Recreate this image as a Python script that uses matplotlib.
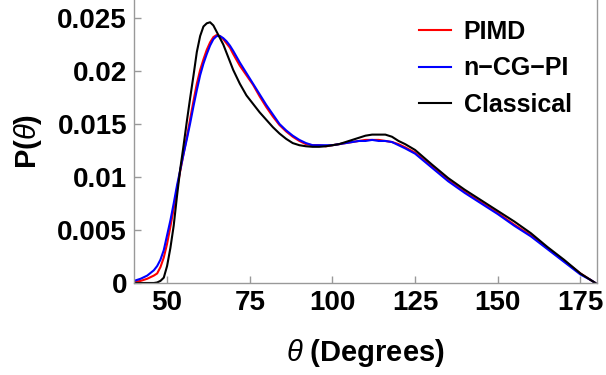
import numpy as np
import matplotlib
matplotlib.use("Agg")
import matplotlib.pyplot as plt

plt.rcParams['font.family'] = ['Liberation Sans', 'DejaVu Sans']
plt.rcParams['mathtext.fontset'] = 'custom'
plt.rcParams['mathtext.it'] = 'Liberation Sans:italic'
plt.rcParams['mathtext.rm'] = 'Liberation Sans:bold'

# angle grid (degrees)
theta = [40, 42, 44, 46, 47, 48, 49, 50, 51, 52, 53, 54, 55, 56, 57, 58, 59, 60,
         61, 62, 63, 64, 65, 66, 67, 68, 69, 70, 72, 74, 76, 78, 80, 82, 84, 86,
         88, 90, 92, 94, 96, 98, 100, 102, 104, 106, 108, 110, 112, 114, 116,
         118, 120, 122, 125, 130, 135, 140, 145, 150, 155, 160, 165, 170, 175,
         178, 179.5]

pimd = [0.0001, 0.0002, 0.0004, 0.0007, 0.0009, 0.0015, 0.0024, 0.0037, 0.0053,
        0.0070, 0.0089, 0.0106, 0.0122, 0.0138, 0.0155, 0.0172, 0.0188, 0.0201,
        0.0211, 0.0220, 0.0227, 0.0232, 0.0234, 0.0233, 0.0230, 0.0226, 0.0222,
        0.0216, 0.0205, 0.0196, 0.0187, 0.0176, 0.0166, 0.0157, 0.0149, 0.0143,
        0.0138, 0.0134, 0.0131, 0.0130, 0.0130, 0.0129, 0.0130, 0.0131, 0.0132,
        0.0133, 0.0134, 0.0135, 0.0135, 0.0135, 0.0134, 0.0133, 0.0131, 0.0128,
        0.0123, 0.0110, 0.0097, 0.0086, 0.0076, 0.0066, 0.0055, 0.0045, 0.0033,
        0.0021, 0.0009, 0.0003, 0.0]

ncgpi = [0.0002, 0.0004, 0.0007, 0.0012, 0.0016, 0.0022, 0.0031, 0.0045, 0.0059,
         0.0075, 0.0092, 0.0107, 0.0122, 0.0136, 0.0151, 0.0167, 0.0182, 0.0196,
         0.0207, 0.0216, 0.0224, 0.0230, 0.0233, 0.0233, 0.0231, 0.0228, 0.0224,
         0.0219, 0.0208, 0.0198, 0.0188, 0.0178, 0.0168, 0.0159, 0.0150, 0.0144,
         0.0139, 0.0135, 0.0132, 0.0130, 0.0130, 0.0130, 0.0130, 0.0131, 0.0132,
         0.0133, 0.0134, 0.0134, 0.0135, 0.0134, 0.0134, 0.0133, 0.0130, 0.0127,
         0.0122, 0.0109, 0.0096, 0.0085, 0.0075, 0.0065, 0.0054, 0.0044, 0.0032,
         0.0020, 0.0008, 0.0003, 0.0]

classical = [0.0, 0.0, 0.0, 0.0, 0.00005, 0.0002, 0.0005, 0.0016, 0.0033, 0.0054,
             0.0082, 0.0108, 0.0130, 0.0153, 0.0175, 0.0196, 0.0218, 0.0233,
             0.0242, 0.0245, 0.0246, 0.0243, 0.0237, 0.0231, 0.0225, 0.0217,
             0.0209, 0.0201, 0.0188, 0.0177, 0.0169, 0.0161, 0.0154, 0.0147,
             0.0141, 0.0136, 0.0132, 0.0130, 0.0129, 0.01285, 0.01285, 0.0129,
             0.0130, 0.0131, 0.0133, 0.0135, 0.0137, 0.0139, 0.0140, 0.0140,
             0.0140, 0.0138, 0.0134, 0.0131, 0.01255, 0.0112, 0.0099, 0.0088,
             0.0078, 0.0068, 0.0058, 0.0047, 0.0034, 0.0022, 0.0009, 0.0003, 0.0]

xticks = [50, 75, 100, 125, 150, 175]
yticks = [0, 0.005, 0.01, 0.015, 0.02, 0.025]
ytick_labels = ['0', '0.005', '0.01', '0.015', '0.02', '0.025']

fig = plt.figure(figsize=(6.06, 3.75), dpi=100)
ax = fig.add_axes([134/606, 92/375, 463/606, 283/375])

ax.plot(theta, pimd, color='red', lw=1.5, label='PIMD')
ax.plot(theta, ncgpi, color='blue', lw=1.5, label='n\u2212CG\u2212PI')
ax.plot(theta, classical, color='black', lw=1.5, label='Classical')

ax.set_xlim(40, 180)
ax.set_ylim(0, 0.0267)
ax.set_xticks(xticks)
ax.set_xticklabels([str(t) for t in xticks])
ax.set_yticks(yticks)
ax.set_yticklabels(ytick_labels)

for s in ax.spines.values():
    s.set_color('#999999')
    s.set_linewidth(1.0)
ax.spines['top'].set_visible(False)
ax.tick_params(direction='in', length=5, width=1, color='#999999',
               labelsize=20, pad=5)
for lab in ax.get_xticklabels() + ax.get_yticklabels():
    lab.set_fontweight('bold')

fig.text(0.5 * (134 + 597) / 606, 1 - 353/375, r'$\theta$ (Degrees)',
         ha='center', va='center', fontsize=21, fontweight='bold')
fig.text(28/606, 1 - 141/375, r'P($\theta$)', rotation=90,
         ha='center', va='center', fontsize=21, fontweight='bold')

leg = ax.legend(loc='upper left', bbox_to_anchor=(0.615, 0.93), frameon=False,
                prop={'size': 18, 'weight': 'bold'}, handlelength=1.3,
                handletextpad=0.5, labelspacing=0.5, borderpad=0,
                borderaxespad=0)

fig.savefig('out.png', dpi=100)
